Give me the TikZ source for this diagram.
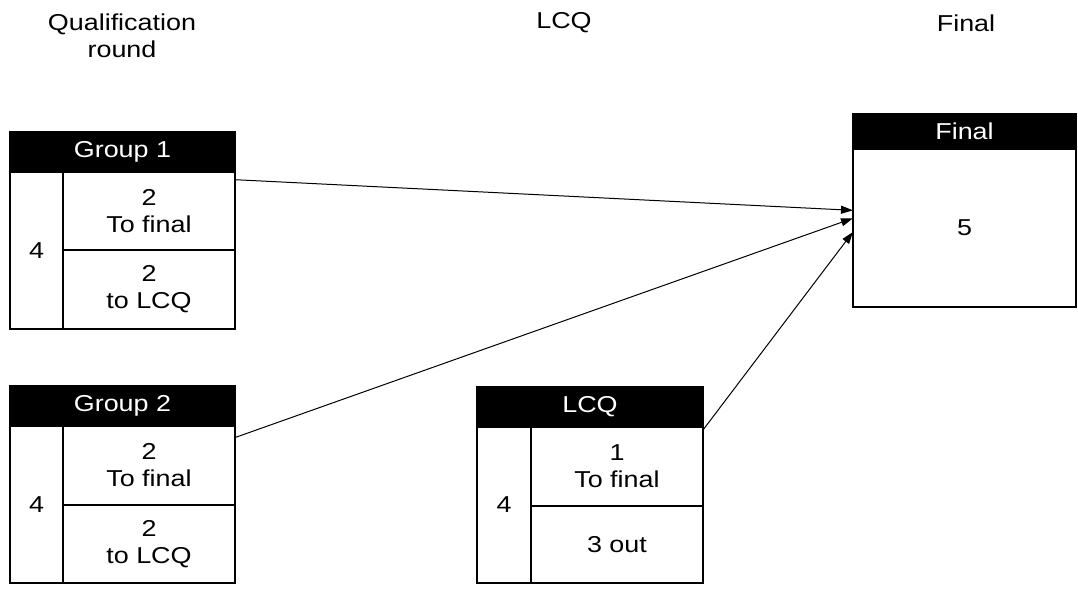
\documentclass[tikz,border=0pt]{standalone}
\usepackage{fontspec}
\setmainfont{Liberation Sans}[FakeStretch=1.17]
\usetikzlibrary{arrows.meta,positioning}
\tikzset{
  head/.style={draw, fill=black, text=white, line width=1.2pt, inner sep=0pt, outer sep=0pt, anchor=north west, minimum height=40pt},
  cell/.style={draw, line width=1.2pt, inner sep=0pt, outer sep=0pt, align=center, anchor=north west},
  title/.style={align=center},
  link/.style={line width=1pt, -{Triangle[length=12pt,width=8pt]}}
}
\begin{document}
\begin{tikzpicture}[x=1pt,y=-1pt]
\fontsize{23}{27}\selectfont
\useasboundingbox (0,0) rectangle (1078,591);
% Titres
\node[title] (tqual) at (122,36) {Qualification\\round};
\node[title] (tlcq) at (564,23) {LCQ};
\node[title] (tfin) at (966,23) {Final};
% Group 1
\node[head, minimum width=225pt] (g1head) at (10,132) {Group 1};
\node[cell, minimum width=53pt, minimum height=157pt, below right=0pt of g1head.south west] (g1num) {4};
\node[cell, minimum width=172pt, minimum height=78pt] (g1top) at (g1num.north east) {2\\To final};
\node[cell, minimum width=172pt, minimum height=79pt] (g1bot) at (g1top.south west) {2\\to LCQ};
% Group 2
\node[head, minimum width=225pt] (g2head) at (10,386) {Group 2};
\node[cell, minimum width=53pt, minimum height=157pt, below right=0pt of g2head.south west] (g2num) {4};
\node[cell, minimum width=172pt, minimum height=79pt] (g2top) at (g2num.north east) {2\\To final};
\node[cell, minimum width=172pt, minimum height=78pt] (g2bot) at (g2top.south west) {2\\to LCQ};
% LCQ
\node[head, minimum width=226pt] (lcqhead) at (477,387) {LCQ};
\node[cell, minimum width=54pt, minimum height=156pt, below right=0pt of lcqhead.south west] (lcqnum) {4};
\node[cell, minimum width=172pt, minimum height=79pt] (lcqtop) at (lcqnum.north east) {1\\To final};
\node[cell, minimum width=172pt, minimum height=77pt] (lcqbot) at (lcqtop.south west) {3 out};
% Final
\node[head, minimum width=223pt, minimum height=35pt] (finhead) at (853,114) {Final};
\node[cell, minimum width=223pt, minimum height=158pt, below right=0pt of finhead.south west] (finbody) {5};
% Fleches
\draw[link] (g1top.20) -- (finbody.171);
\draw[link] (g2top.18) -- (finbody.175);
\draw[link] (lcqtop.23) -- (finbody.182);
\end{tikzpicture}
\end{document}
